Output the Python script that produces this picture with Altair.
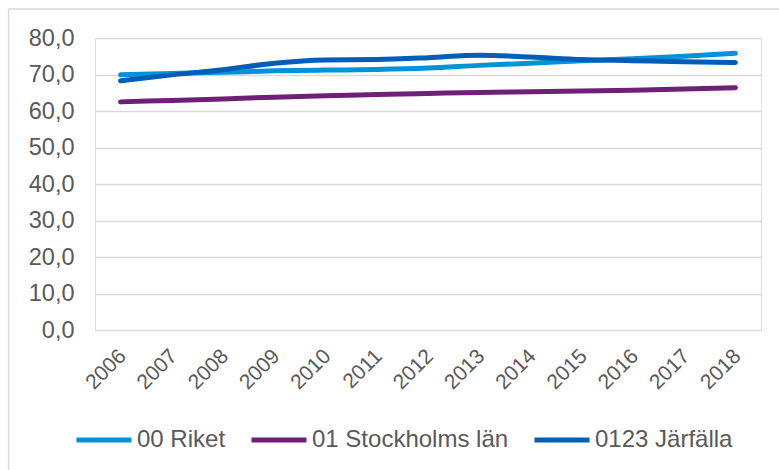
import altair as alt
import pandas as pd

# Series values per year
years = [str(y) for y in range(2006, 2019)]
riket = [69.9, 70.3, 70.6, 71.0, 71.2, 71.4, 71.8, 72.5, 73.1, 73.8, 74.3, 75.0, 75.8]
stockholm = [62.5, 62.9, 63.3, 63.8, 64.2, 64.5, 64.8, 65.1, 65.3, 65.5, 65.7, 66.0, 66.4]
jarfalla = [68.3, 69.9, 71.3, 73.1, 74.0, 74.1, 74.6, 75.3, 74.8, 74.1, 73.8, 73.5, 73.3]

series_names = ["00 Riket", "01 Stockholms län", "0123 Järfälla"]
series_colors = ["#0093d9", "#6e2077", "#005eb8"]

rows = []
for name, values in zip(series_names, [riket, stockholm, jarfalla]):
    for year, v in zip(years, values):
        rows.append({"År": year, "Värde": v, "Serie": name})
df = pd.DataFrame(rows)

FONT = "Liberation Sans"
TEXT = "#595959"
GRID = "#d9d9d9"

lines = alt.Chart(df).mark_line(
    strokeWidth=5, strokeCap="round", interpolate="monotone"
).encode(
    x=alt.X(
        "År:O",
        sort=years,
        scale=alt.Scale(type="point", padding=0.5),
        axis=alt.Axis(
            title=None, labelAngle=-45, domain=False, ticks=False,
            labelPadding=15, labelOffset=-6, labelFontSize=21,
            labelColor=TEXT, labelFont=FONT, grid=False,
        ),
    ),
    y=alt.Y(
        "Värde:Q",
        scale=alt.Scale(domain=[0, 80], nice=False),
        axis=alt.Axis(
            title=None, values=list(range(0, 81, 10)), format=",.1f",
            domain=False, ticks=False, labelPadding=21,
            labelFontSize=23.5, labelColor=TEXT, labelFont=FONT,
            gridColor=GRID, gridWidth=1.5,
        ),
    ),
    color=alt.Color(
        "Serie:N",
        sort=series_names,
        scale=alt.Scale(domain=series_names, range=series_colors),
        legend=alt.Legend(
            title=None, orient="none", direction="horizontal",
            legendX=-21, legendY=372, symbolType="stroke",
            symbolSize=3025, symbolStrokeWidth=5, labelOffset=3,
            columnPadding=15, labelFontSize=24, labelColor=TEXT,
            labelFont=FONT, labelLimit=400,
        ),
    ),
)

# Outer frame of the chart (left and top edges)
frame_df = pd.DataFrame({"k": [0]})
frame_left = alt.Chart(frame_df).mark_rule(color=GRID, strokeWidth=1.5).encode(
    x=alt.value(-86.5), y=alt.value(-29), y2=alt.value(440)
)
frame_top = alt.Chart(frame_df).mark_rule(color=GRID, strokeWidth=1.5).encode(
    y=alt.value(-29), x=alt.value(-86.5), x2=alt.value(700)
)

chart = alt.layer(frame_left, frame_top, lines).properties(
    width=666,
    height=292,
    autosize=alt.AutoSizeParams(type="none"),
    padding={"left": 95, "top": 38, "right": 18, "bottom": 140},
).configure_view(stroke=None).configure(
    locale={"number": {"decimal": ",", "thousands": "\u00a0", "grouping": [3], "currency": ["", " kr"]}}
)

chart.save("out.html", embed_options={"renderer": "svg", "actions": False})
